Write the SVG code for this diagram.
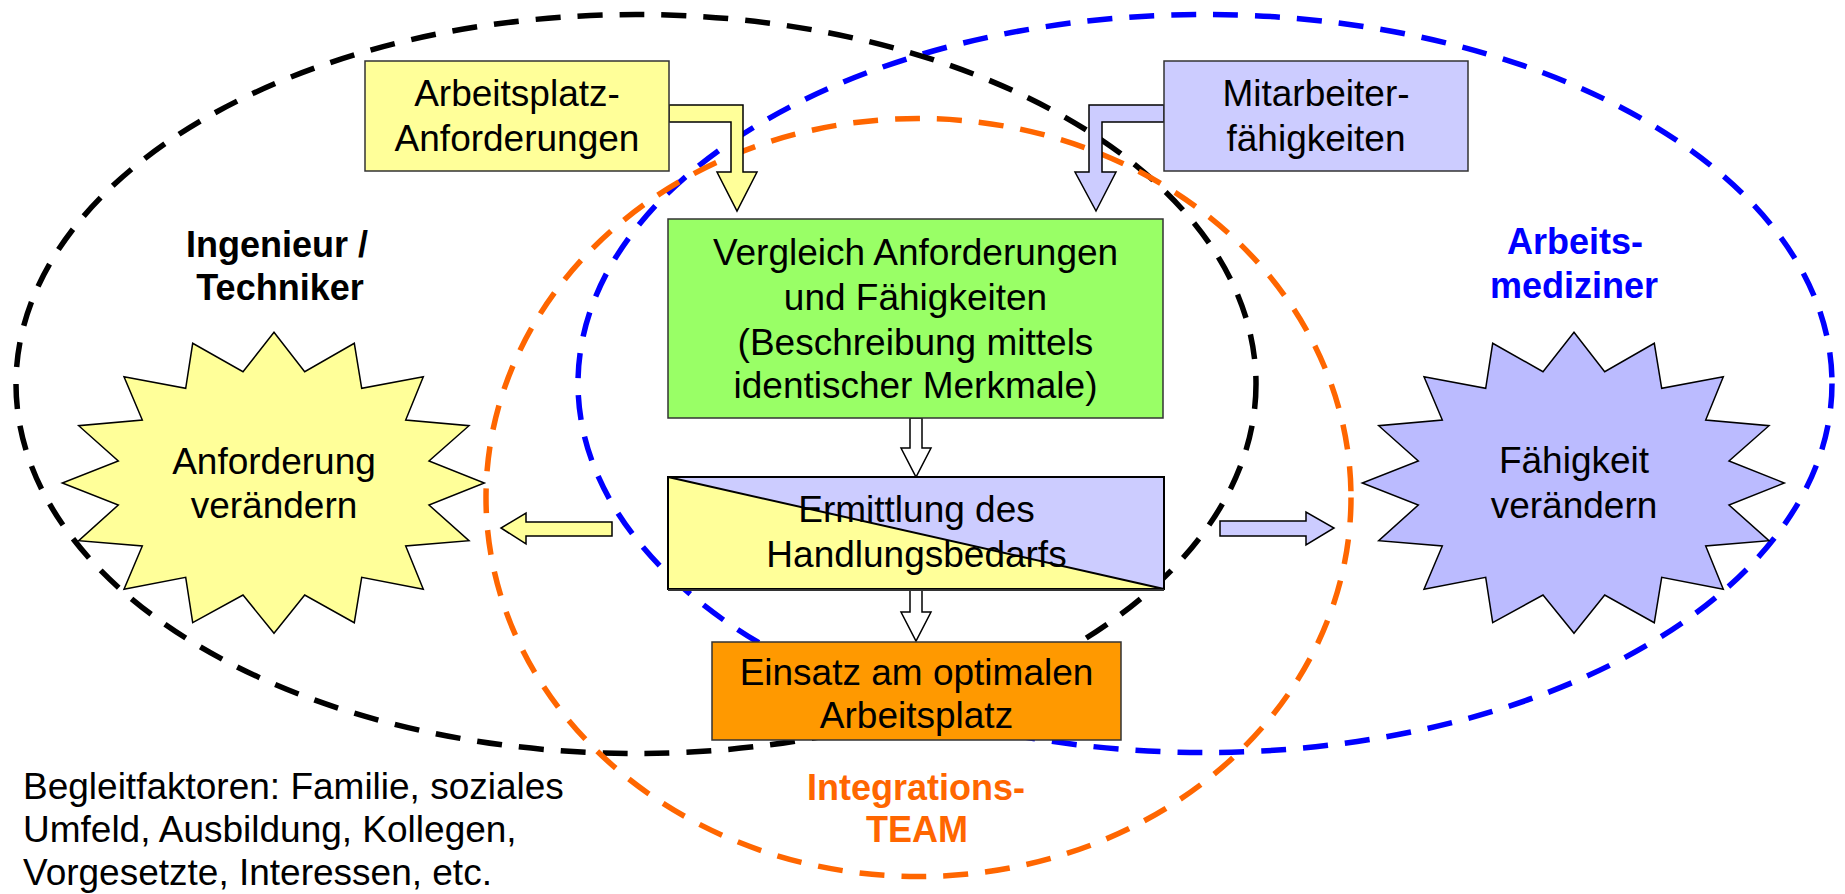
<svg xmlns="http://www.w3.org/2000/svg" width="1845" height="894" viewBox="0 0 1845 894">
<defs>
<style>
.t{font-family:"Liberation Sans",Arial,sans-serif;font-size:37px;fill:#000;text-anchor:middle}
.b{font-family:"Liberation Sans",Arial,sans-serif;font-size:36px;font-weight:bold;text-anchor:middle}
.ell{fill:none;stroke-width:5.5;stroke-dasharray:25 17}
.box{stroke:#333;stroke-width:1.5}
.arr{stroke:#000;stroke-width:1.5;stroke-linejoin:miter}
</style>
<polygon id="star" points="274,332.3 304.7,371.7 354.3,343.3 361.7,388.3 423.3,376.7 405.7,420 469,425.7 429,461 484.3,483 429,505 469,540.7 405.7,546 423.3,589.3 361.7,577.3 354.3,622.7 304.7,595 274,633.3 243,595 192.7,622.7 185.7,577.3 124,589.3 142.3,546 78.7,540.7 118.3,505 62.3,483 118.3,461 78.7,425.7 142.3,420 124,376.7 185.7,388.3 192.7,343.3 243,371.7"/>
</defs>
<rect width="1845" height="894" fill="#fff"/>
<g id="groups">
<ellipse class="ell" cx="1205" cy="383.5" rx="627" ry="369" stroke="#0000FF"/>
<ellipse class="ell" cx="636" cy="384" rx="620" ry="369.5" stroke="#000"/>
<ellipse class="ell" cx="918.5" cy="497.5" rx="432.5" ry="379" stroke="#FF6600"/>
</g>
<g id="connectors">
<polygon class="arr" fill="#FFFF99" points="669,105 743,105 743,172 757,172 737,211 717,172 731,172 731,122 669,122"/>
<polygon class="arr" fill="#CCCCFF" points="1164,105 1089,105 1089,172 1075,172 1096,211 1116,172 1102,172 1102,122 1164,122"/>
<polygon class="arr" fill="#fff" points="910,418 922,418 922,448 931,448 916,477 901,448 910,448"/>
<polygon class="arr" fill="#fff" points="910,589 922,589 922,612 931,612 916,641 901,612 910,612"/>
<polygon class="arr" fill="#FFFF99" points="612,522 612,536 526,536 526,544 501,528 526,513 526,522"/>
<polygon class="arr" fill="#CCCCFF" points="1220,521 1220,536 1306,536 1306,545 1334,528 1306,512 1306,521"/>
</g>
<g id="arbeitsplatz">
<rect class="box" x="365" y="61" width="304" height="110" fill="#FFFF99"/>
<text class="t" x="517" y="106">Arbeitsplatz-</text>
<text class="t" x="517" y="151">Anforderungen</text>
</g>
<g id="mitarbeiter">
<rect class="box" x="1164" y="61" width="304" height="110" fill="#CCCCFF"/>
<text class="t" x="1316" y="106">Mitarbeiter-</text>
<text class="t" x="1316" y="151">fähigkeiten</text>
</g>
<g id="vergleich">
<rect class="box" x="668" y="219" width="495" height="199" fill="#99FF66"/>
<text class="t" x="915.5" y="265">Vergleich Anforderungen</text>
<text class="t" x="915.5" y="310">und Fähigkeiten</text>
<text class="t" x="915.5" y="355">(Beschreibung mittels</text>
<text class="t" x="915.5" y="398">identischer Merkmale)</text>
</g>
<g id="ermittlung">
<polygon points="668,477 1164,477 1164,589" fill="#CCCCFF"/>
<polygon points="668,477 1164,589 668,589" fill="#FFFF99"/>
<line x1="668" y1="477" x2="1164" y2="589" stroke="#000" stroke-width="2"/>
<rect x="668" y="477" width="496" height="112" fill="none" stroke="#000" stroke-width="2"/>
<line x1="668" y1="590" x2="1164" y2="590" stroke="#333" stroke-width="2"/>
<text class="t" x="916.5" y="522">Ermittlung des</text>
<text class="t" x="916.5" y="567">Handlungsbedarfs</text>
</g>
<g id="einsatz">
<rect class="box" x="712" y="642" width="409" height="98" fill="#FF9900"/>
<text class="t" x="916.5" y="685">Einsatz am optimalen</text>
<text class="t" x="916.5" y="728">Arbeitsplatz</text>
</g>
<g id="anforderung">
<use href="#star" fill="#FFFF99" stroke="#000" stroke-width="1.5"/>
<text class="t" x="274" y="474">Anforderung</text>
<text class="t" x="274" y="518">verändern</text>
</g>
<g id="faehigkeit">
<use href="#star" transform="translate(1300,0)" fill="#BBBBFF" stroke="#000" stroke-width="1.5"/>
<text class="t" x="1574" y="473">Fähigkeit</text>
<text class="t" x="1574" y="518">verändern</text>
</g>
<g id="labels">
<text class="b" x="277" y="257" fill="#000">Ingenieur /</text>
<text class="b" x="280" y="300" fill="#000">Techniker</text>
<text class="b" x="1575" y="254" fill="#0000FF">Arbeits-</text>
<text class="b" x="1574" y="298" fill="#0000FF">mediziner</text>
<text class="b" x="916" y="800" fill="#FF6600">Integrations-</text>
<text class="b" x="917" y="842" fill="#FF6600">TEAM</text>
<text class="t" x="23" y="799" style="text-anchor:start">Begleitfaktoren: Familie, soziales</text>
<text class="t" x="23" y="842" style="text-anchor:start">Umfeld, Ausbildung, Kollegen,</text>
<text class="t" x="23" y="885" style="text-anchor:start">Vorgesetzte, Interessen, etc.</text>
</g>
</svg>
